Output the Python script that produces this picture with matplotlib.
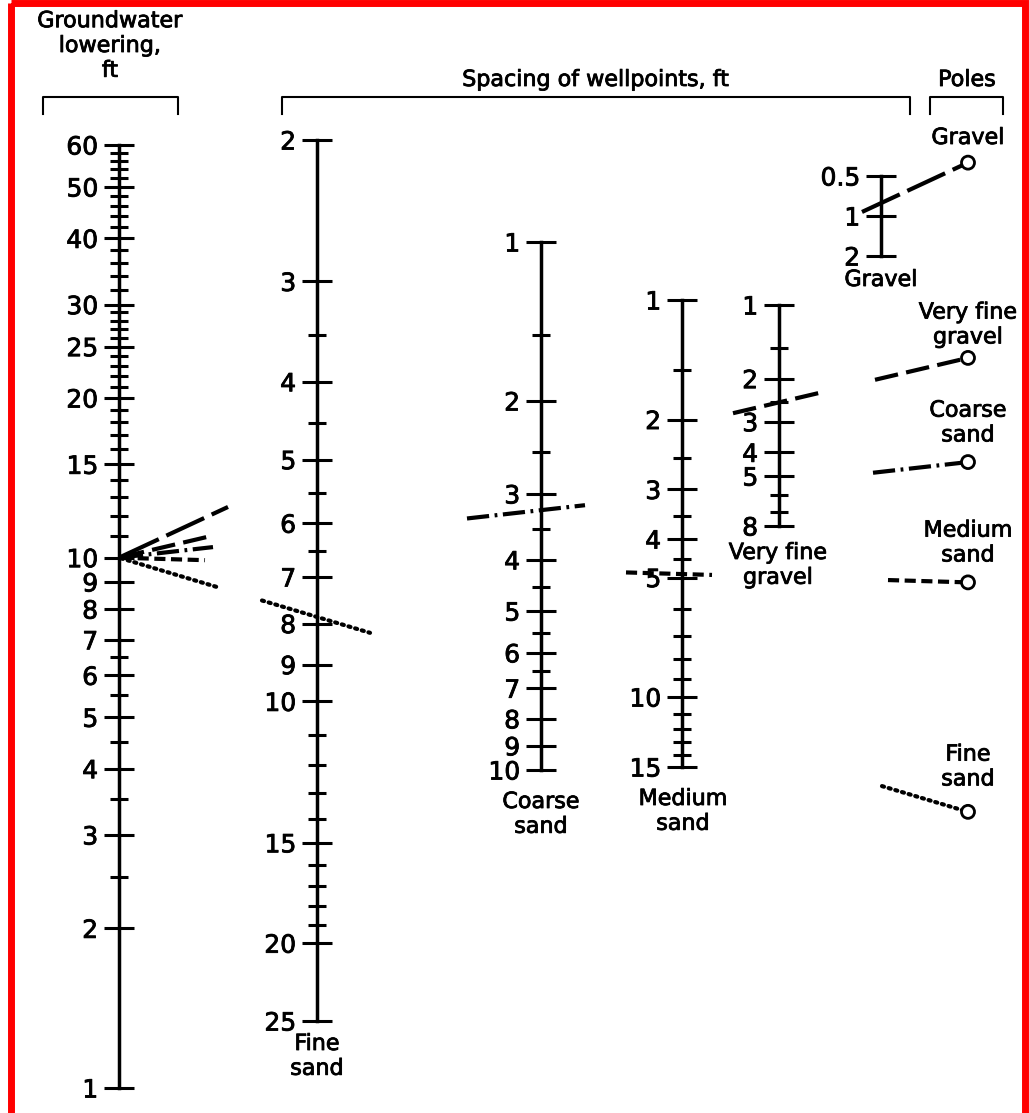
import matplotlib
matplotlib.use("Agg")
import matplotlib.pyplot as plt
import matplotlib.patheffects as pe
from matplotlib.ticker import FixedLocator, FixedFormatter, NullFormatter
from matplotlib.patches import Rectangle, Circle

plt.rcParams["font.family"] = ["DejaVu Sans"]
plt.rcParams["lines.scale_dashes"] = False

W, H = 1029, 1113
thick = [pe.withStroke(linewidth=0.6, foreground="black")]

# --- scale values -------------------------------------------------------
gw_major = [1, 2, 3, 4, 5, 6, 7, 8, 9, 10, 15, 20, 25, 30, 40, 50, 60]
gw_minor = [2.5, 3.5, 4.5, 5.5, 6.5, 11, 12, 13, 14, 16, 17, 18, 19,
            21, 22, 23, 24, 26, 27, 28, 29, 32, 34, 36, 38,
            42, 44, 46, 48, 52, 54, 56, 58]

fine_major = [2, 3, 4, 5, 6, 7, 8, 9, 10, 15, 20, 25]
fine_minor = [3.5, 4.5, 5.5, 6.5, 11, 12, 13, 14, 16, 17, 18, 19]

coarse_major = [1, 2, 3, 4, 5, 6, 7, 8, 9, 10]
coarse_minor = [1.5, 2.5, 3.5, 4.5, 5.5, 6.5]

medium_major = [1, 2, 3, 4, 5, 10, 15]
medium_minor = [1.5, 2.5, 3.5, 4.5, 6, 7, 8, 9, 11, 12, 13, 14]

vfg_major = [1, 2, 3, 4, 5, 8]
vfg_minor = [1.5, 2.5, 6, 7]

gravel_major = [0.5, 1, 2]
gravel_labels = ["0.5", "1", "2"]

# example reading: 10 ft lowering, spacing read on each soil scale
gw_reading = 10
materials = ["Gravel", "Very fine gravel", "Coarse sand", "Medium sand", "Fine sand"]
spacing_reading = [0.8, 2.5, 3.22, 4.9, 7.85]

fig = plt.figure(figsize=(W / 100, H / 100), dpi=100)
fig.patch.set_facecolor("white")

ov = fig.add_axes([0, 0, 1, 1], zorder=5)
ov.set_xlim(0, W)
ov.set_ylim(H, 0)
ov.axis("off")
ov.patch.set_visible(False)


def make_scale(x, y_top, y_bot, v_top, v_bot, major, minor, labels=None):
    ax = fig.add_axes([x / W, 1 - y_bot / H, 0.5 / W, (y_bot - y_top) / H])
    ax.set_yscale("log")
    ax.set_ylim(v_bot, v_top)
    for s in ["top", "bottom", "right"]:
        ax.spines[s].set_visible(False)
    ax.spines["left"].set_linewidth(2.5)
    ax.set_xticks([])
    ax.patch.set_visible(False)
    ax.yaxis.set_major_locator(FixedLocator(major))
    ax.yaxis.set_major_formatter(FixedFormatter(labels or [str(v) for v in major]))
    ax.yaxis.set_minor_locator(FixedLocator(minor))
    ax.yaxis.set_minor_formatter(NullFormatter())
    ax.tick_params(axis="y", which="major", direction="inout", length=22,
                   width=2.2, labelsize=18, pad=4)
    ax.tick_params(axis="y", which="minor", direction="inout", length=13, width=2.2)
    for lab in ax.get_yticklabels():
        lab.set_path_effects(thick)
    return ax


ax_gw = make_scale(119, 145, 1088, 60, 1, gw_major, gw_minor)
ax_fine = make_scale(317, 140, 1021, 2, 25, fine_major, fine_minor)
ax_coarse = make_scale(541, 242, 770, 1, 10, coarse_major, coarse_minor)
ax_medium = make_scale(682, 300, 767, 1, 15, medium_major, medium_minor)
ax_vfg = make_scale(779, 305, 526, 1, 8, vfg_major, vfg_minor)
ax_gravel = make_scale(881, 176, 256, 0.5, 2, gravel_major, [], gravel_labels)

scale_axes = [ax_gravel, ax_vfg, ax_coarse, ax_medium, ax_fine]
pole_x = 968


def to_px(ax, v):
    d = ax.transData.transform((0, v))
    return ov.transData.inverted().transform(d)


# --- index lines from groundwater reading through soil scale to pole ---
styles = [(0, (30, 6)), (0, (17, 6)), (0, (16, 4, 2, 4)), (0, (8, 4)), (0, (1.5, 3.5))]
widths = [3.0, 3.0, 3.0, 3.0, 3.0]
caps = ["butt", "butt", "butt", "butt", "round"]
pieces = [
    [(121, 228), (862, 962)],
    [(121, 212), (733, 823), (875, 962)],
    [(121, 213), (467, 585), (873, 962)],
    [(121, 205), (626, 712), (888, 962)],
    [(121, 220), (262, 370), (882, 962)],
]

x0, y0 = to_px(ax_gw, gw_reading)
for ax, val, ls, lw, cap, segs in zip(scale_axes, spacing_reading, styles, widths, caps, pieces):
    x1, y1 = to_px(ax, val)
    slope = (y1 - y0) / (x1 - x0)
    for xa, xb in segs:
        ov.plot([xa, xb], [y0 + slope * (xa - x0), y0 + slope * (xb - x0)],
                color="black", lw=lw, linestyle=ls, solid_capstyle="butt",
                dash_capstyle=cap)
    py = y0 + slope * (pole_x - x0)
    ov.add_patch(Circle((pole_x, py), 6.5, facecolor="white", edgecolor="black",
                        lw=2.0, zorder=6))

# --- texts --------------------------------------------------------------
fs = 16
ov.text(110, 46, "Groundwater\nlowering,\nft", ha="center", va="center",
        fontsize=fs, linespacing=1.3, path_effects=thick)
ov.text(596, 80, "Spacing of wellpoints, ft", ha="center", va="center",
        fontsize=fs, path_effects=thick)
ov.text(967, 80, "Poles", ha="center", va="center", fontsize=fs, path_effects=thick)

for xa, xb in [(43, 178), (282, 910), (930, 1003)]:
    ov.plot([xa, xa, xb, xb], [114, 97, 97, 114], color="black", lw=1.5)

below = [(317, 1034, "Fine\nsand"), (541, 792, "Coarse\nsand"),
         (683, 789, "Medium\nsand"), (778, 543, "Very fine\ngravel"),
         (881, 270, "Gravel")]
for x, y, t in below:
    ov.text(x, y, t, ha="center", va="top", fontsize=fs, linespacing=1.3,
            path_effects=thick)

pole_labels = [(138, "Gravel"), (325, "Very fine\ngravel"), (423, "Coarse\nsand"),
               (543, "Medium\nsand"), (767, "Fine\nsand")]
for y, t in pole_labels:
    ov.text(968, y, t, ha="center", va="center", fontsize=fs, linespacing=1.3,
            path_effects=thick)

# red frame
ov.add_patch(Rectangle((10.5, 3), 1014, 1200, fill=False, edgecolor="#ff0000",
                       lw=5, clip_on=False))

fig.savefig("out.png", dpi=100, facecolor="white")
